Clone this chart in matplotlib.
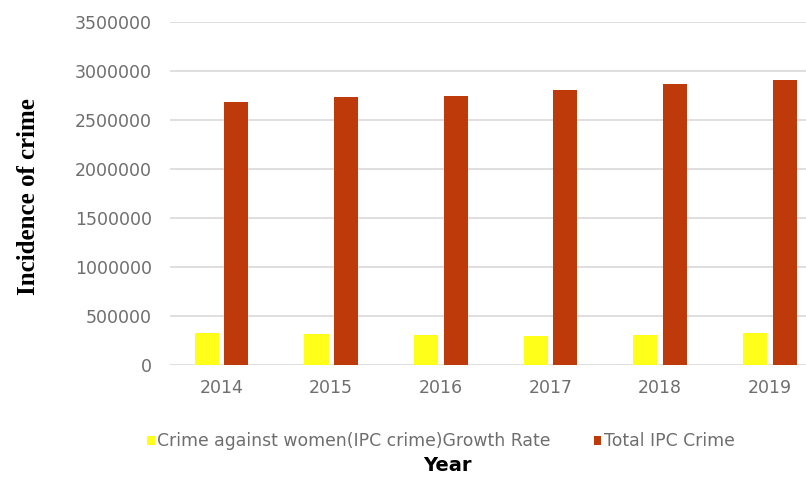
import numpy as np
import matplotlib.pyplot as plt

# data
years = ['2014', '2015', '2016', '2017', '2018', '2019']
women_crime = [325000, 315000, 310000, 300000, 310000, 330000]
total_ipc = [2680000, 2740000, 2750000, 2810000, 2865000, 2910000]

fig = plt.figure(figsize=(8.06, 4.78), dpi=100)
ax = fig.add_axes([0.211, 0.236, 0.789, 0.718])

x = np.arange(len(years))
w = 0.22
ax.bar(x - 0.135, women_crime, w, color='#FFFF1A', label='Crime against women(IPC crime)Growth Rate')
ax.bar(x + 0.135, total_ipc, w, color='#BF3A0A', label='Total IPC Crime')

ax.set_ylim(0, 3500000)
ax.set_xlim(-0.47, 5.33)
ax.set_yticks(range(0, 3500001, 500000))
ax.set_yticklabels([str(v) for v in range(0, 3500001, 500000)])
ax.set_xticks(x)
ax.set_xticklabels(years)

ax.grid(axis='y', color='#D9D9D9', linewidth=1.2)
ax.set_axisbelow(True)
for s in ax.spines.values():
    s.set_visible(False)
ax.tick_params(length=0, labelsize=12.5, labelcolor='#6E6E6E')
ax.tick_params(axis='y', pad=13)
ax.tick_params(axis='x', pad=10)

fig.text(0.035, 0.588, 'Incidence of crime', rotation=90, ha='center', va='center',
         fontsize=18, fontweight='bold', family='Liberation Serif')

leg = fig.legend(loc='center left', bbox_to_anchor=(0.183, 0.077), ncol=2, frameon=False,
                 borderpad=0, borderaxespad=0,
                 handlelength=0.42, handleheight=0.42, handletextpad=0.15, columnspacing=2.5,
                 prop={'size': 12.4})
for t in leg.get_texts():
    t.set_color('#6E6E6E')

fig.text(0.555, 0.027, 'Year', ha='center', va='center', fontsize=14, fontweight='bold')

plt.savefig('out.png', dpi=100)
